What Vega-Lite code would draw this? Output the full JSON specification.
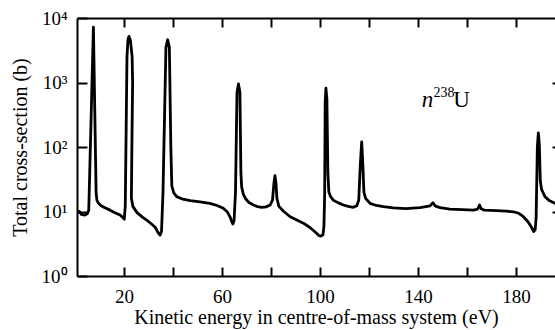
{
  "$schema": "https://vega.github.io/schema/vega-lite/v6.json",
  "autosize": "none",
  "padding": {"left": 77, "top": 18, "right": 0, "bottom": 54},
  "width": 478,
  "height": 258,
  "background": "white",
  "config": {
    "view": {"stroke": null},
    "axis": {
      "grid": false,
      "domainColor": "black",
      "domainWidth": 2,
      "tickColor": "black",
      "tickWidth": 2,
      "labelFont": "Liberation Serif",
      "labelFontSize": 19,
      "labelColor": "black",
      "titleFont": "Liberation Serif",
      "titleFontSize": 20,
      "titleFontWeight": "normal",
      "titleColor": "black"
    }
  },
  "resolve": {"axis": {"x": "independent", "y": "independent"}},
  "layer": [
    {
      "data": {"values": [
        {"i":0,"e":0.8,"s":10.2},{"i":1,"e":1.8,"s":10},{"i":2,"e":2.6,"s":9.0},{"i":3,"e":4.0,"s":8.8},{"i":4,"e":5.0,"s":9.2},{"i":5,"e":5.6,"s":10.5},
        {"i":6,"e":7.5,"s":7200},{"i":7,"e":8.6,"s":20},{"i":8,"e":8.9,"s":15},{"i":9,"e":9.6,"s":13.4},{"i":10,"e":10.5,"s":12.4},{"i":11,"e":12,"s":11.5},
        {"i":12,"e":14.3,"s":10.5},{"i":13,"e":16.3,"s":9.6},{"i":14,"e":18.4,"s":8.8},{"i":15,"e":19.6,"s":8.0},{"i":16,"e":20.1,"s":7.6},{"i":17,"e":20.5,"s":12},
        {"i":18,"e":21.2,"s":2500},{"i":19,"e":21.6,"s":4600},{"i":20,"e":22.0,"s":5200},{"i":21,"e":22.6,"s":4500},{"i":22,"e":23.3,"s":2500},{"i":23,"e":23.5,"s":1000},
        {"i":24,"e":23.2,"s":100},{"i":25,"e":23.0,"s":16},{"i":26,"e":23.6,"s":12},{"i":27,"e":25.3,"s":9.6},{"i":28,"e":27.5,"s":8.2},{"i":29,"e":29.4,"s":7.3},
        {"i":30,"e":31.2,"s":6.4},{"i":31,"e":32.7,"s":5.7},{"i":32,"e":33.9,"s":4.7},{"i":33,"e":34.7,"s":4.3},{"i":34,"e":35.3,"s":4.9},{"i":35,"e":35.9,"s":20},
        {"i":36,"e":37.1,"s":3500},{"i":37,"e":37.8,"s":4600},{"i":38,"e":38.5,"s":3500},{"i":39,"e":39.1,"s":100},{"i":40,"e":39.5,"s":25},{"i":41,"e":40.3,"s":19.5},
        {"i":42,"e":41.5,"s":17},{"i":43,"e":44,"s":15.5},{"i":44,"e":47,"s":14.8},{"i":45,"e":51,"s":14.1},{"i":46,"e":55,"s":13.4},{"i":47,"e":58,"s":12.4},
        {"i":48,"e":60.5,"s":11.2},{"i":49,"e":62.2,"s":9.8},{"i":50,"e":63.3,"s":8.2},{"i":51,"e":64.0,"s":6.9},{"i":52,"e":64.4,"s":6.4},{"i":53,"e":64.9,"s":7.2},
        {"i":54,"e":65.5,"s":20},{"i":55,"e":66.1,"s":700},{"i":56,"e":66.7,"s":950},{"i":57,"e":67.3,"s":700},{"i":58,"e":67.7,"s":40},{"i":59,"e":68.0,"s":24},
        {"i":60,"e":68.7,"s":18.5},{"i":61,"e":69.6,"s":15.8},{"i":62,"e":71,"s":13.8},{"i":63,"e":72.8,"s":12.6},{"i":64,"e":74.5,"s":11.9},{"i":65,"e":76.2,"s":11.6},
        {"i":66,"e":78,"s":11.8},{"i":67,"e":79.6,"s":12.6},{"i":68,"e":80.6,"s":15},{"i":69,"e":81.2,"s":28},{"i":70,"e":81.6,"s":36},{"i":71,"e":82.0,"s":28},
        {"i":72,"e":82.4,"s":16},{"i":73,"e":83.2,"s":12},{"i":74,"e":85.2,"s":10},{"i":75,"e":87.8,"s":8.3},{"i":76,"e":90.5,"s":7.4},{"i":77,"e":93.2,"s":6.6},
        {"i":78,"e":96,"s":5.6},{"i":79,"e":98.6,"s":4.6},{"i":80,"e":99.5,"s":4.25},{"i":81,"e":100.3,"s":4.15},{"i":82,"e":101.2,"s":4.35},{"i":83,"e":101.6,"s":6},
        {"i":84,"e":101.9,"s":20},{"i":85,"e":102.1,"s":500},{"i":86,"e":102.4,"s":820},{"i":87,"e":102.8,"s":550},{"i":88,"e":103.2,"s":40},{"i":89,"e":103.6,"s":20},
        {"i":90,"e":104.3,"s":17},{"i":91,"e":105.4,"s":15},{"i":92,"e":107.5,"s":13.6},{"i":93,"e":109.5,"s":12.6},{"i":94,"e":111.5,"s":12},{"i":95,"e":113.6,"s":11.6},
        {"i":96,"e":115,"s":12.3},{"i":97,"e":115.8,"s":15},{"i":98,"e":116.4,"s":50},{"i":99,"e":117.0,"s":120},{"i":100,"e":117.5,"s":50},{"i":101,"e":117.9,"s":20},
        {"i":102,"e":118.6,"s":16},{"i":103,"e":120.4,"s":13.4},{"i":104,"e":123,"s":12.4},{"i":105,"e":125.8,"s":11.9},{"i":106,"e":130,"s":11.4},{"i":107,"e":135,"s":11.1},
        {"i":108,"e":140.8,"s":11.5},{"i":109,"e":144.9,"s":12.2},{"i":110,"e":146.1,"s":13.7},{"i":111,"e":147.1,"s":12.1},{"i":112,"e":149,"s":11.5},{"i":113,"e":153,"s":10.9},
        {"i":114,"e":158,"s":10.7},{"i":115,"e":162.6,"s":10.5},{"i":116,"e":164.3,"s":10.9},{"i":117,"e":165.1,"s":12.6},{"i":118,"e":165.8,"s":11},{"i":119,"e":167,"s":10.5},
        {"i":120,"e":172,"s":10.3},{"i":121,"e":176,"s":10.1},{"i":122,"e":179,"s":9.9},{"i":123,"e":181,"s":9.4},{"i":124,"e":183,"s":8.3},{"i":125,"e":184.8,"s":7},
        {"i":126,"e":186.2,"s":5.8},{"i":127,"e":187.2,"s":4.9},{"i":128,"e":187.8,"s":5.2},{"i":129,"e":188.2,"s":8},{"i":130,"e":188.7,"s":100},{"i":131,"e":189.1,"s":165},
        {"i":132,"e":189.5,"s":110},{"i":133,"e":189.9,"s":30},{"i":134,"e":190.4,"s":22},{"i":135,"e":191.8,"s":17},{"i":136,"e":193.5,"s":14.8},{"i":137,"e":195.9,"s":13.4},
        {"i":138,"e":198,"s":12.6}
      ]},
      "mark": {"type": "line", "color": "black", "strokeWidth": 2.8, "clip": true, "strokeJoin": "round"},
      "encoding": {
        "x": {"field": "e", "type": "quantitative",
              "scale": {"domain": [0.8, 195.9], "nice": false, "zero": false},
              "axis": {"orient": "bottom", "values": [20,40,60,80,100,120,140,160,180],
                       "labelExpr": "datum.value % 40 == 20 ? datum.label : ''",
                       "tickSize": -9, "labelPadding": 20, "labelFlush": false,
                       "title": "Kinetic energy in centre-of-mass system (eV)", "titlePadding": 1}},
        "y": {"field": "s", "type": "quantitative",
              "scale": {"type": "log", "domain": [1, 10000], "nice": false},
              "axis": {"orient": "left", "values": [1,10,100,1000,10000],
                       "labelExpr": "'10' + ['⁰','¹','²','³','⁴'][round(log(datum.value)/LN10)]",
                       "tickSize": -10, "labelPadding": 20, "labelFlush": false,
                       "title": "Total cross-section (b)", "titlePadding": 11}},
        "order": {"field": "i", "type": "quantitative"}
      }
    },
    {
      "data": {"values": [{"e": 141.5, "s": 417, "t": "n"}]},
      "mark": {"type": "text", "font": "Liberation Serif", "fontStyle": "italic", "fontSize": 23, "align": "left", "baseline": "alphabetic", "color": "black"},
      "encoding": {
        "x": {"field": "e", "type": "quantitative",
              "axis": {"orient": "top", "values": [20,40,60,80,100,120,140,160,180], "labels": false, "title": null, "tickSize": -9}},
        "y": {"field": "s", "type": "quantitative",
              "axis": {"orient": "right", "values": [10,100,1000], "labels": false, "title": null, "tickSize": -3, "domain": false}},
        "text": {"field": "t"}
      }
    },
    {
      "data": {"values": [{"e": 146.3, "s": 596, "t": "238"}]},
      "mark": {"type": "text", "font": "Liberation Serif", "fontSize": 14, "align": "left", "baseline": "alphabetic", "color": "black"},
      "encoding": {
        "x": {"field": "e", "type": "quantitative", "axis": null},
        "y": {"field": "s", "type": "quantitative", "axis": null},
        "text": {"field": "t"}
      }
    },
    {
      "data": {"values": [{"e": 154.4, "s": 417, "t": "U"}]},
      "mark": {"type": "text", "font": "Liberation Serif", "fontSize": 23, "align": "left", "baseline": "alphabetic", "color": "black"},
      "encoding": {
        "x": {"field": "e", "type": "quantitative", "axis": null},
        "y": {"field": "s", "type": "quantitative", "axis": null},
        "text": {"field": "t"}
      }
    }
  ]
}
